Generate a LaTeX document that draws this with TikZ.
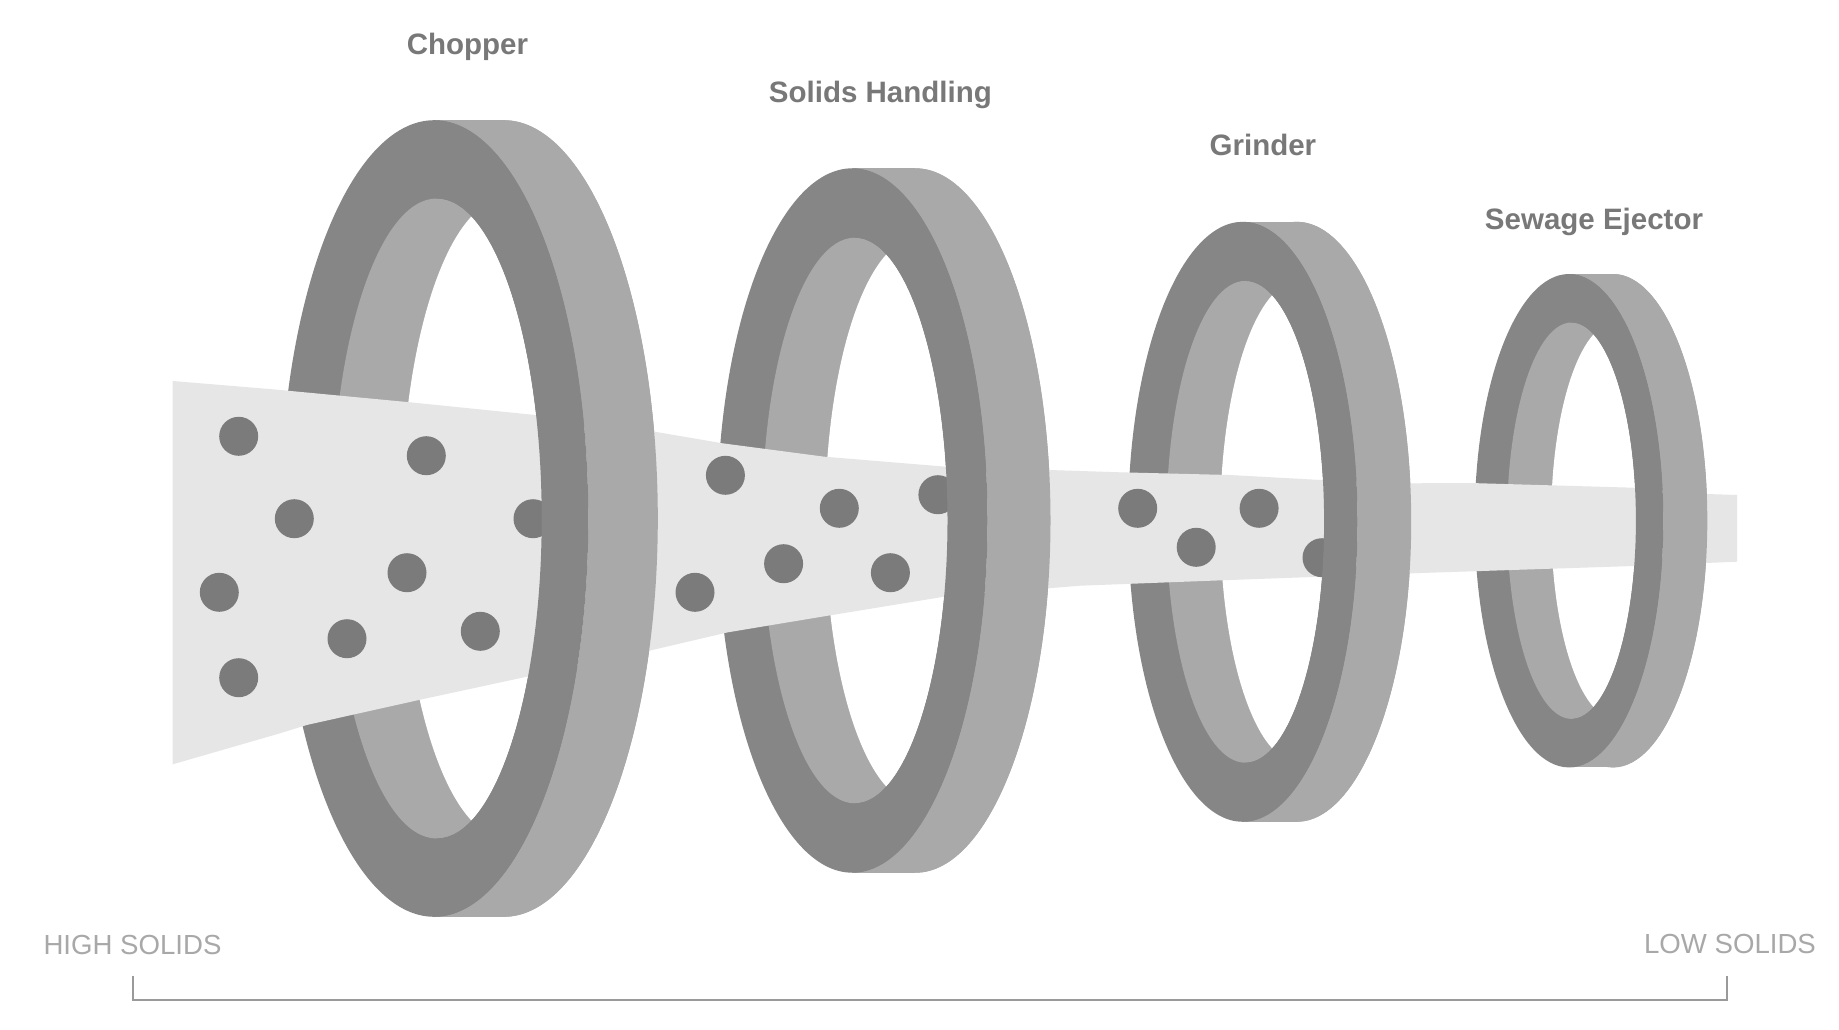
\documentclass[tikz,border=0pt]{standalone}
\usepackage{fontspec}
\setmainfont{Liberation Sans}
\definecolor{ringdark}{HTML}{868686}
\definecolor{ringlight}{HTML}{A9A9A9}
\definecolor{streamcol}{HTML}{E6E6E6}
\definecolor{dotcol}{HTML}{7B7B7B}
\definecolor{titlecol}{HTML}{787878}
\definecolor{scalecol}{HTML}{A8A8A8}
\definecolor{bracketcol}{HTML}{9A9A9A}
% #1 inner cx, #2 cy, #3 outer rx, #4 outer ry, #5 inner rx, #6 inner ry, #7 depth, #8 outer cx
\newcommand\ringfull[8]{%
  \fill[ringlight] (#8+#7,#2) ellipse [x radius=#3, y radius=#4];
  \fill[ringlight] (#8,#2-#4) rectangle (#8+#7,#2+#4);
  \fill[ringdark] (#8,#2) ellipse [x radius=#3, y radius=#4];
  \fill[ringlight] (#1,#2) ellipse [x radius=#5, y radius=#6];
  \begin{scope}
    \clip (#1,#2) ellipse [x radius=#5, y radius=#6];
    \fill[white] (#1+#7,#2) ellipse [x radius=#5, y radius=#6];
  \end{scope}
}
\newcommand\ringfront[8]{%
  \begin{scope}
    \clip (#1,0) rectangle (1839,1030);
    \begin{scope}[even odd rule]
      \clip (0,0) rectangle (1839,1030) (#8,#2) ellipse [x radius=#3, y radius=#4];
      \fill[ringlight] (#8+#7,#2) ellipse [x radius=#3, y radius=#4];
      \fill[ringlight] (#8,#2-#4) rectangle (#8+#7,#2+#4);
    \end{scope}
    \begin{scope}[even odd rule]
      \clip (0,0) rectangle (1839,1030) (#1,#2) ellipse [x radius=#5, y radius=#6];
      \fill[ringdark] (#8,#2) ellipse [x radius=#3, y radius=#4];
    \end{scope}
  \end{scope}
}
\tikzset{
  title/.style={text=titlecol, font=\bfseries\fontsize{29.5}{32}\selectfont, anchor=base, inner sep=0pt},
  scalelabel/.style={text=scalecol, font=\fontsize{27.6}{30}\selectfont, anchor=base, inner sep=0pt},
  bracket/.style={draw=bracketcol, line width=2pt},
  solid/.style={fill=dotcol},
}
\begin{document}
\begin{tikzpicture}[x=1pt,y=-1pt]
\useasboundingbox (0,0) rectangle (1839,1030);
\fill[white] (0,0) rectangle (1839,1030);

% rings
\ringfull{436.7}{518.5}{154.1}{398.3}{105}{320}{69.5}{434.2}
\ringfull{854.8}{520.5}{135.2}{352.2}{92.7}{282.8}{63}{852.3}
\ringfull{1245.3}{521.8}{114.7}{300}{78.8}{240.9}{53.7}{1242.8}
\ringfull{1571.5}{520.7}{94.3}{246.7}{64.4}{198.2}{44}{1569}

% stream
\fill[streamcol] (172.7,381) -- (275,389.5) -- (410,402.3) -- (535,415)
  -- (654.6,431.7) -- (722.5,443.3) -- (824.3,456.7) -- (945.7,466.7)
  -- (1049.3,470) -- (1120,472.3) -- (1229.6,475) -- (1320.7,480)
  -- (1411.7,483.3) -- (1470,483) -- (1632.9,487.7) -- (1707,494)
  -- (1737,495) -- (1737,561.7) -- (1632.9,566) -- (1411.7,573.3)
  -- (1320.7,576.7) -- (1229.6,580) -- (1080,585.7) -- (944,596.7)
  -- (827.9,615.7) -- (727.9,632.3) -- (649.3,650.7) -- (526.7,676.7)
  -- (423.3,699) -- (306.7,725) -- (280,733.3) -- (172.7,764.3) -- cycle;

% solids
\foreach \x/\y in {238.7/436.3, 426.3/455.7, 294.3/518.7, 533/518.7,
  219.3/592.3, 407/572.7, 347/638.7, 480.3/631.3, 238.7/677.7,
  725.4/475.3, 839.3/508.3, 937.9/494.7, 695/592.3, 783.6/563.7, 890.4/572.7,
  1137.7/508.3, 1259.1/508.3, 1196.2/547.3, 1322/557.7}
  \fill[solid] (\x,\y) circle [radius=19.5];

% front parts of the rings over the stream
\ringfront{436.7}{518.5}{154.1}{398.3}{105}{320}{69.5}{434.2}
\ringfront{854.8}{520.5}{135.2}{352.2}{92.7}{282.8}{63}{852.3}
\ringfront{1245.3}{521.8}{114.7}{300}{78.8}{240.9}{53.7}{1242.8}
\ringfront{1571.5}{520.7}{94.3}{246.7}{64.4}{198.2}{44}{1569}

% titles
\node[title] (chopper) at (467.4,55) {Chopper};
\node[title] (solids) at (880.4,102.3) {Solids Handling};
\node[title] (grinder) at (1262.9,156) {Grinder};
\node[title] (ejector) at (1594,229) {Sewage Ejector};

% scale
\node[scalelabel] (high) at (132.5,954) {HIGH SOLIDS};
\node[scalelabel] (low) at (1730,953.3) {LOW SOLIDS};
\coordinate (bl) at (132.7,975.7);
\coordinate (br) at (1727,975.7);
\draw[bracket] (bl) -- (bl |- 0,1000.3) -- (br |- 0,1000.3) -- (br);
\end{tikzpicture}
\end{document}
